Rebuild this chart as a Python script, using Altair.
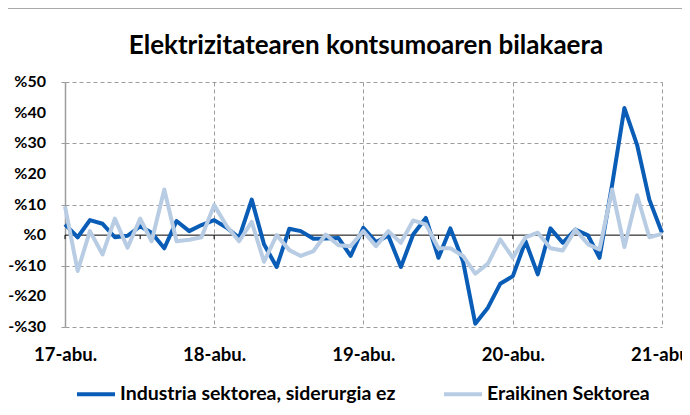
import altair as alt
import pandas as pd

# ---- data (monthly, Aug 2017 .. Aug 2021) ----
months = pd.date_range("2017-08-01", periods=49, freq="MS").strftime("%Y-%m-%d").tolist()

industria = [3.5, -0.7, 4.9, 3.7, -0.7, -0.2, 2.9, 0.8, -4.3, 4.6, 1.3, 3.3, 4.9,
             2.4, -0.9, 11.6, -3.0, -10.4, 2.1, 1.3, -1.2, -1.1, -0.9, -6.8, 2.4,
             -2.3, -0.1, -10.4, 0.2, 5.6, -7.4, 2.2, -8.5, -28.9, -23.7, -15.9, -13.4,
             -2.0, -12.8, 2.2, -2.5, 1.8, -0.1, -7.4, 16.5, 41.5, 29.5, 11.6, 0.8]

eraikinak = [9.4, -11.7, 1.3, -6.3, 5.4, -4.1, 5.4, -2.0, 14.9, -2.0, -1.5, -0.7, 9.8,
             2.9, -2.0, 4.3, -8.7, 0.0, -4.9, -6.8, -5.2, 0.2, -3.3, -3.6, 1.3,
             -3.6, 1.3, -2.5, 4.8, 3.5, -4.3, -4.3, -6.8, -12.6, -9.3, -1.4, -7.4,
             -0.7, 0.8, -4.3, -5.0, 1.8, -3.0, -4.7, 14.9, -3.9, 13.0, -0.7, 0.4]

series_names = ["Industria sektorea, siderurgia ez", "Eraikinen Sektorea"]
series_colors = ["#0A5DB6", "#B8CCE4"]

title_text = "Elektrizitatearen kontsumoaren bilakaera"
y_ticks = [-30, -20, -10, 0, 10, 20, 30, 40, 50]
y_tick_labels = ["-%30", "-%20", "-%10", "%0", "%10", "%20", "%30", "%40", "%50"]
year_ticks = [2017, 2018, 2019, 2020, 2021]
half_year_ticks = pd.date_range("2017-08-01", "2021-08-01", freq="6MS").strftime("%Y-%m-%d").tolist()

FONT = "Lato"
GRID = "#9C9C9C"

df_ind = pd.DataFrame({"month": months, "value": industria, "series": series_names[0]})
df_era = pd.DataFrame({"month": months, "value": eraikinak, "series": series_names[1]})
df_ylab = pd.DataFrame({"v": y_ticks, "lab": y_tick_labels})

x_values = [alt.DateTime(year=y, month=8, date=1, utc=True) for y in year_ticks]

x_scale = alt.Scale(type="utc",
                    domain=[alt.DateTime(year=2017, month=8, date=1, utc=True),
                            alt.DateTime(year=2021, month=8, date=1, utc=True)])
y_scale = alt.Scale(domain=[-30, 50], nice=False)

x_axis = alt.Axis(values=x_values, labelExpr="utcFormat(datum.value, '%y') + '-abu.'",
                  title=None, domain=False, ticks=False, labelPadding=18,
                  grid=True, labelOverlap=False, labelFlush=False)
y_axis = alt.Axis(values=y_ticks, labels=False, title=None, grid=True)

x_enc = alt.X("month:T", scale=x_scale, axis=x_axis)
y_enc = alt.Y("value:Q", scale=y_scale, axis=y_axis)

color_enc = alt.Color(
    "series:N",
    scale=alt.Scale(domain=series_names, range=series_colors),
    legend=alt.Legend(orient="none", legendX=10, legendY=291, direction="horizontal",
                      title=None, symbolType="stroke", symbolSize=1444, symbolStrokeWidth=4,
                      labelFont=FONT, labelFontSize=19.5, labelFontWeight="bold",
                      labelColor="#000000", columnPadding=40, labelOffset=3, labelLimit=0),
)

zero_df = pd.DataFrame({"v": [0]})
zero_line = alt.Chart(zero_df).mark_rule(color="#000000", strokeWidth=1).encode(
    y=alt.Y("v:Q", scale=y_scale, axis=y_axis), x=alt.value(0), x2=alt.value(597))

tick_df = pd.DataFrame({"d": half_year_ticks})
zero_ticks = alt.Chart(tick_df).mark_rule(color="#000000", strokeWidth=1).encode(
    x=alt.X("d:T", scale=x_scale, axis=x_axis), y=alt.datum(0), y2=alt.datum(-1.3))

line_ind = alt.Chart(df_ind).mark_line(strokeWidth=4, strokeJoin="round").encode(
    x=x_enc, y=y_enc, color=color_enc)
line_era = alt.Chart(df_era).mark_line(strokeWidth=4, strokeJoin="round").encode(
    x=x_enc, y=y_enc, color=color_enc)

y_labels = alt.Chart(df_ylab).mark_text(
    font=FONT, fontSize=16, fontWeight="bold", color="#000000",
    align="right", baseline="middle").encode(
    y=alt.Y("v:Q", scale=y_scale, axis=y_axis), text="lab:N", x=alt.value(-19))

top_df = pd.DataFrame({"a": [0]})
top_border = alt.Chart(top_df).mark_rule(color="#8C8C8C", strokeWidth=1.5).encode(
    x=alt.value(-57), x2=alt.value(617), y=alt.value(-74))

title_df = pd.DataFrame({"t": [title_text]})
title_mark = alt.Chart(title_df).mark_text(
    font=FONT, fontSize=26, fontWeight="bold", color="#000000",
    align="center", baseline="alphabetic").encode(
    text="t:N", x=alt.value(301), y=alt.value(-28))

chart = alt.layer(zero_line, zero_ticks, line_ind, line_era, y_labels,
                  top_border, title_mark).properties(
    width=597, height=245,
    background="#FFFFFF",
    autosize=alt.AutoSizeParams(type="none"),
    padding={"left": 57, "top": 74, "right": 20, "bottom": 80},
).configure_view(
    stroke=None
).configure_axis(
    gridColor=GRID, gridDash=[4, 3], gridWidth=1,
    labelFont=FONT, labelFontWeight="bold", labelColor="#000000",
).configure_axisX(
    labelFontSize=18.5,
).configure_axisY(
    domainColor=GRID, domainWidth=1.5, tickColor=GRID, tickSize=4,
)

chart.save("out.html", embed_options={"renderer": "svg", "actions": False})
